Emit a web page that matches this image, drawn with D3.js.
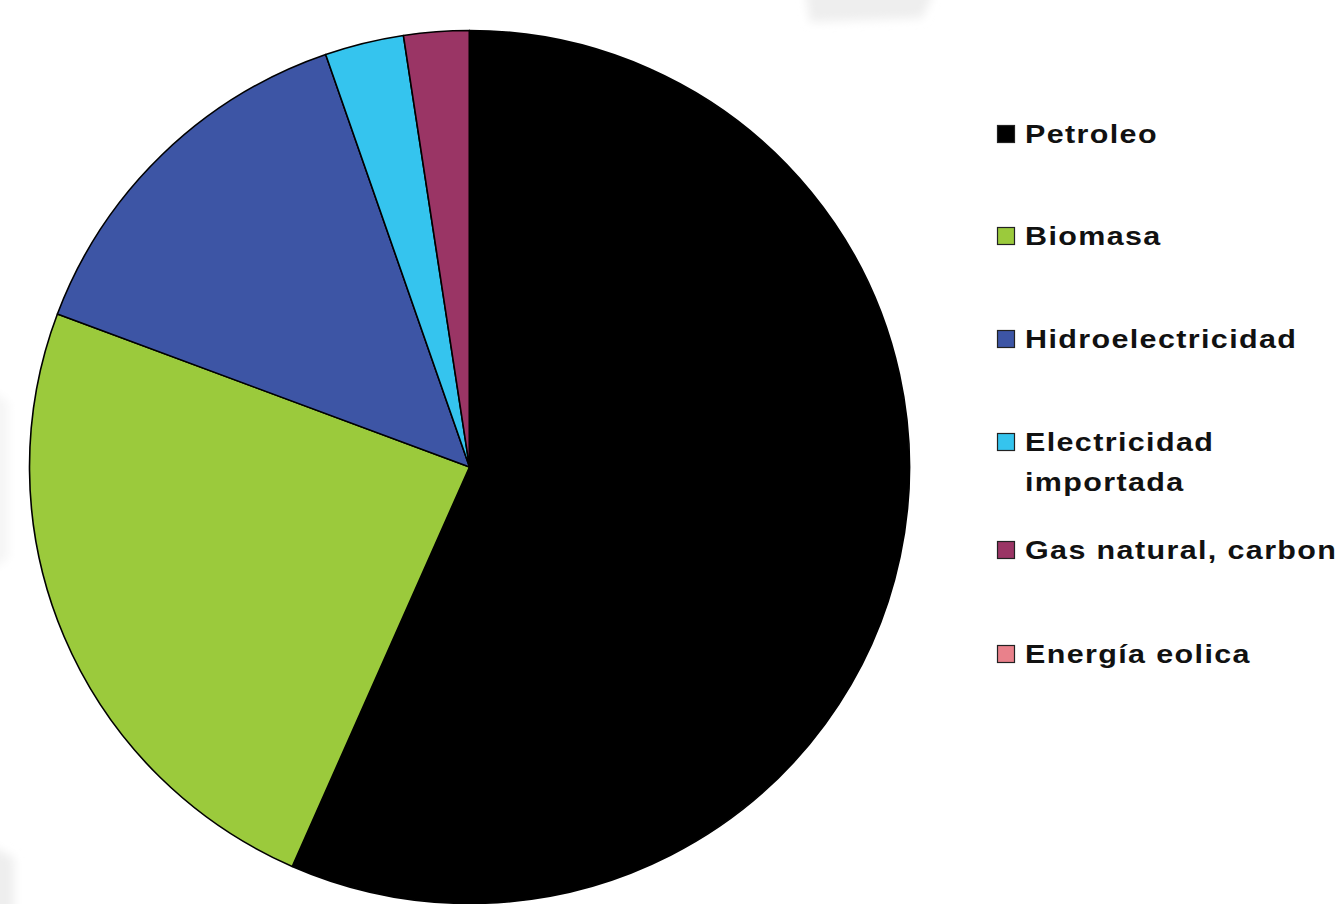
<!DOCTYPE html>
<html>
<head>
<meta charset="utf-8">
<script src="https://cdn.jsdelivr.net/npm/d3@7"></script>
<style>
  html, body { margin: 0; padding: 0; background: #ffffff; }
  svg { display: block; }
</style>
</head>
<body>
<svg id="chart" width="1339" height="904"></svg>
<script>
// Energy sources and their share (%) of the supply
const categories = ["Petroleo", "Biomasa", "Hidroelectricidad", "Electricidad importada", "Gas natural, carbon", "Energía eolica"];
const legendLabels = [["Petroleo"], ["Biomasa"], ["Hidroelectricidad"], ["Electricidad", "importada"], ["Gas natural, carbon"], ["Energía eolica"]];
const shares = [56.6, 24.1, 14.0, 2.9, 2.4, 0];
const colors = ["#000000", "#9bca3c", "#3d55a5", "#35c4ee", "#9a3565", "#e9818b"];
const legendBaselines = [143, 245, 348, 451, 559, 663];

const svg = d3.select("#chart");
const defs = svg.append("defs");
defs.append("filter").attr("id", "soft")
  .attr("x", "-50%").attr("y", "-50%").attr("width", "200%").attr("height", "200%")
  .append("feGaussianBlur").attr("stdDeviation", 5);

// faint background decoration
const deco = svg.append("g").attr("filter", "url(#soft)");
deco.append("path").attr("d", "M805,-10 L935,-10 L922,18 L810,22 Z").attr("fill", "#eeeeee");
deco.append("path").attr("d", "M-10,845 L14,858 L14,914 L-10,914 Z").attr("fill", "#eeeeee");
deco.append("path").attr("d", "M-10,390 L8,402 L8,558 L-10,570 Z").attr("fill", "#f5f5f5");

// pie
const cx = 469.5, cy = 467, r = 440;
const pie = d3.pie().sort(null).value(d => d);
const arc = d3.arc().innerRadius(0).outerRadius(r);
const color = d3.scaleOrdinal().domain(categories).range(colors);

const g = svg.append("g").attr("transform", `translate(${cx},${cy}) scale(1,0.992)`);
g.selectAll("path.slice")
  .data(pie(shares))
  .join("path")
  .attr("class", "slice")
  .attr("d", arc)
  .attr("fill", (d, i) => color(categories[i]))
  .attr("stroke", "#000")
  .attr("stroke-width", 1.6)
  .attr("stroke-linejoin", "round");

// legend
const legendX = 997;
const items = svg.append("g").selectAll("g.item")
  .data(categories)
  .join("g")
  .attr("class", "item")
  .attr("transform", (d, i) => `translate(${legendX},${legendBaselines[i]})`);

items.append("rect")
  .attr("x", 0.5).attr("y", -17.5)
  .attr("width", 17).attr("height", 17)
  .attr("fill", d => color(d))
  .attr("stroke", "#222")
  .attr("stroke-width", 1.2);

items.append("text")
  .attr("transform", "translate(28,0) scale(1.15,1)")
  .attr("font-family", "'Liberation Sans', Arial, sans-serif")
  .attr("font-weight", "bold")
  .attr("font-size", 26.5)
  .attr("letter-spacing", 1.2)
  .attr("fill", "#111")
  .each(function(d, i) {
    const t = d3.select(this);
    legendLabels[i].forEach((line, j) => {
      t.append("tspan").attr("x", 0).attr("dy", j === 0 ? 0 : 40).text(line);
    });
  });
</script>
</body>
</html>
